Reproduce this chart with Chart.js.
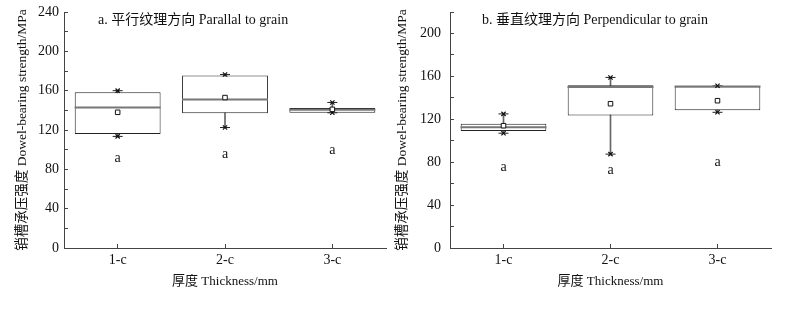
<!DOCTYPE html>
<html>
<head>
<meta charset="utf-8">
<script src="https://cdn.jsdelivr.net/npm/chart.js@4.4.0/dist/chart.umd.min.js"></script>
<style>
  body { margin: 0; background: #fff; }
  .wrap { display: flex; width: 799px; height: 309px; }
  canvas { display: block; }
</style>
</head>
<body>
<div class="wrap">
  <canvas id="chartA" width="392" height="309"></canvas>
  <canvas id="chartB" width="407" height="309"></canvas>
</div>
<script>
const categories = ['1-c', '2-c', '3-c'];

// a. parallel to grain
const aMin = [113.5, 122.5, 137.5];
const aQ1 = [116, 137, 137.5];
const aMedian = [143, 151, 140.5];
const aQ3 = [158.5, 175.5, 142.5];
const aMax = [160, 176.5, 148];
const aMean = [138, 153, 141];
const aLetters = ['a', 'a', 'a'];
const aLetterY = [91.5, 95.5, 99.5];

// b. perpendicular to grain
const bMin = [107, 87.5, 126.5];
const bQ1 = [109, 123.5, 128.5];
const bMedian = [112.5, 150.2, 150.5];
const bQ3 = [115.8, 151.6, 150.5];
const bMax = [125, 159, 151.2];
const bMean = [114, 134.5, 137.3];
const bLetters = ['a', 'a', 'a'];
const bLetterY = [75.5, 72, 79.5];

const aTicksMax = 240;
const bTicksMax = 220;

const FONT = '"Liberation Serif", "Noto Sans CJK SC", serif';
const AXIS = '#444';
const TEXT = '#111';

// letters above boxes and the panel caption
const extrasPlugin = {
  id: 'boxExtras',
  afterDatasetsDraw(chart, args, opts) {
    const { ctx, chartArea, scales: { x, y } } = chart;
    ctx.save();
    ctx.fillStyle = TEXT;
    ctx.font = '14px ' + FONT;
    ctx.textAlign = 'center';
    ctx.textBaseline = 'middle';
    opts.letterY.forEach((v, i) => {
      ctx.fillText(opts.letters[i], x.getPixelForValue(i), y.getPixelForValue(v));
    });
    ctx.textAlign = 'left';
    ctx.fillText(opts.caption, chartArea.left + opts.captionDx, opts.captionY);
    ctx.restore();
  }
};

function pts(vals) {
  return vals.map((v, i) => ({ x: categories[i], y: v }));
}

function makeChart(id, s) {
  return new Chart(document.getElementById(id), {
    type: 'bar',
    data: {
      labels: categories,
      datasets: [
        {
          label: 'box',
          data: s.q1.map((v, i) => [v, s.q3[i]]),
          backgroundColor: '#fff',
          borderColor: '#222',
          borderWidth: 1,
          borderSkipped: false,
          barPercentage: 0.8,
          categoryPercentage: 1,
          grouped: false,
          order: 1
        },
        {
          label: 'whisker',
          data: s.min.map((v, i) => [v, s.max[i]]),
          backgroundColor: '#666',
          barThickness: 1,
          grouped: false,
          order: 2
        },
        {
          type: 'line',
          label: 'median',
          data: pts(s.median),
          showLine: false,
          pointStyle: 'line',
          pointRadius: 43,
          pointBorderColor: '#777',
          pointBorderWidth: 2,
          order: 0
        },
        {
          type: 'line',
          label: 'caps',
          data: pts(s.min).concat(pts(s.max)),
          showLine: false,
          pointStyle: 'line',
          pointRadius: 5,
          pointBorderColor: '#222',
          pointBorderWidth: 1,
          order: 0
        },
        {
          type: 'line',
          label: 'extremes',
          data: pts(s.min).concat(pts(s.max)),
          showLine: false,
          pointStyle: 'crossRot',
          pointRadius: 3,
          pointBorderColor: '#111',
          pointBorderWidth: 1.2,
          order: -1
        },
        {
          type: 'line',
          label: 'mean',
          data: pts(s.mean),
          showLine: false,
          pointStyle: 'rect',
          pointRadius: 3.2,
          pointBackgroundColor: '#fff',
          pointBorderColor: '#111',
          pointBorderWidth: 1,
          order: -2
        }
      ]
    },
    options: {
      responsive: false,
      devicePixelRatio: 1,
      animation: false,
      events: [],
      layout: {
        autoPadding: false,
        padding: { top: 12, right: s.padRight, bottom: 0, left: 0 }
      },
      plugins: {
        legend: { display: false },
        tooltip: { enabled: false },
        boxExtras: {
          letters: s.letters,
          letterY: s.letterY,
          caption: s.caption,
          captionDx: s.captionDx,
          captionY: 20
        }
      },
      scales: {
        x: {
          offset: true,
          grid: { offset: false, drawOnChartArea: false, tickLength: -4, color: AXIS },
          border: { color: AXIS, width: 1 },
          ticks: { font: { family: FONT, size: 14 }, color: TEXT, padding: 8 },
          title: {
            display: true,
            text: '厚度 Thickness/mm',
            font: { family: FONT, size: 13 },
            color: TEXT,
            padding: { top: 0, bottom: 20 }
          },
          afterFit: sc => { sc.height = 61; }
        },
        y: {
          min: 0,
          max: s.yMax,
          grid: { drawOnChartArea: false, tickLength: -4, color: AXIS },
          border: { color: AXIS, width: 1 },
          ticks: {
            stepSize: 20,
            autoSkip: false,
            callback: v => (v % 40 === 0 ? v : ''),
            font: { family: FONT, size: 14 },
            color: TEXT,
            padding: s.tickPad
          },
          title: {
            display: true,
            text: '销槽承压强度 Dowel-bearing strength/MPa',
            font: { family: FONT, size: 13.5 },
            color: TEXT,
            padding: { top: s.titlePad, bottom: 0 }
          },
          afterFit: sc => {
            sc.width = s.axisLeft;
            sc.paddingTop = 4;
            sc.paddingBottom = 4;
          }
        }
      }
    },
    plugins: [extrasPlugin]
  });
}

makeChart('chartA', {
  min: aMin, q1: aQ1, median: aMedian, q3: aQ3, max: aMax, mean: aMean,
  letters: aLetters, letterY: aLetterY, yMax: aTicksMax,
  caption: 'a. 平行纹理方向 Parallal to grain', captionDx: 34,
  axisLeft: 64, padRight: 6, tickPad: 9, titlePad: 14
});

makeChart('chartB', {
  min: bMin, q1: bQ1, median: bMedian, q3: bQ3, max: bMax, mean: bMean,
  letters: bLetters, letterY: bLetterY, yMax: bTicksMax,
  caption: 'b. 垂直纹理方向 Perpendicular to grain', captionDx: 32,
  axisLeft: 58, padRight: 28, tickPad: 13, titlePad: 2
});
</script>
</body>
</html>
